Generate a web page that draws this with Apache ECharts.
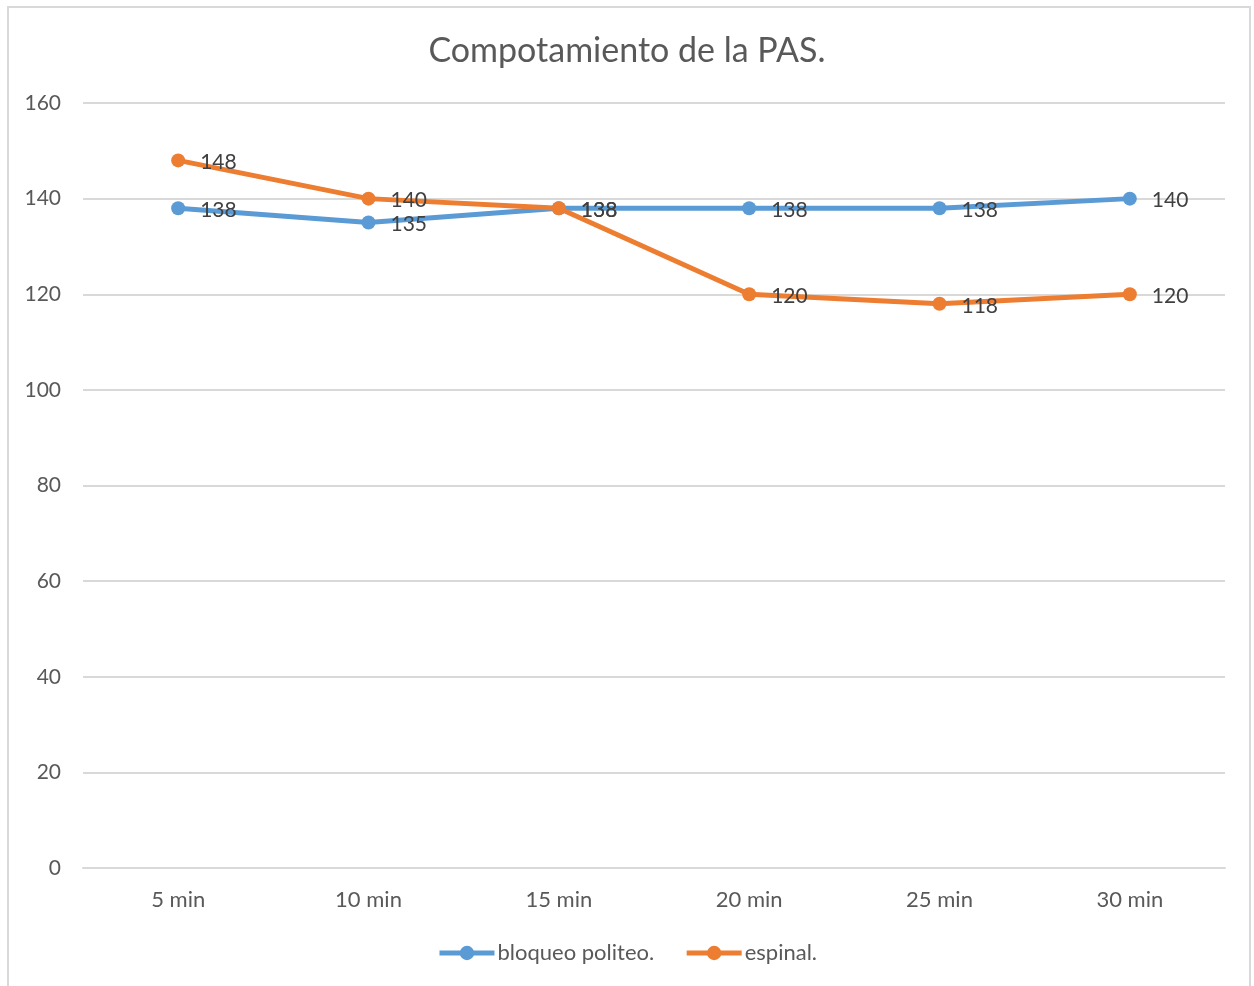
<!DOCTYPE html>
<html>
<head>
<meta charset="utf-8">
<script src="https://cdn.jsdelivr.net/npm/echarts@6/dist/echarts.min.js"></script>
<style>
  html, body { margin: 0; padding: 0; background: #fff; }
  #frame { position: absolute; left: 7px; top: 6px; width: 1244px; height: 990px; border: 2px solid #d9d9d9; box-sizing: border-box; }
  #chart { position: absolute; left: 0; top: 0; width: 1254px; height: 986px; }
</style>
</head>
<body>
<div id="frame"></div>
<div id="chart"></div>
<script>
// datos
const categories = ['5 min', '10 min', '15 min', '20 min', '25 min', '30 min'];
const bloqueo = [138, 135, 138, 138, 138, 140];
const espinal = [148, 140, 138, 120, 118, 120];
const seriesNames = ['bloqueo politeo.', 'espinal.'];
const colors = ['#5B9BD5', '#ED7D31'];

const fontFamily = 'Lato, "Open Sans", sans-serif';

const chart = echarts.init(document.getElementById('chart'), null, { renderer: 'canvas' });

function makeSerie(name, data, color) {
  return {
    name: name,
    type: 'line',
    data: data,
    symbol: 'circle',
    symbolSize: 14,
    color: color,
    lineStyle: { width: 5, color: color },
    itemStyle: { color: color },
    label: {
      show: true,
      position: 'right',
      distance: 15,
      color: '#404040',
      fontSize: 21,
      fontFamily: fontFamily,
      offset: [0, 2]
    },
    emphasis: { disabled: true },
    animation: false
  };
}

chart.setOption({
  backgroundColor: 'transparent',
  title: {
    text: 'Compotamiento de la PAS.',
    left: 'center',
    top: 29,
    textStyle: { color: '#595959', fontSize: 34, fontWeight: 'normal', fontFamily: fontFamily }
  },
  grid: { left: 83, right: 29, top: 103, bottom: 118, containLabel: false },
  legend: {
    bottom: 17,
    left: 'center',
    itemWidth: 55,
    itemHeight: 18,
    itemGap: 30,
    data: seriesNames,
    lineStyle: { width: 5 },
    textStyle: { color: '#595959', fontSize: 22, fontFamily: fontFamily, padding: [0, 0, 0, -2] }
  },
  xAxis: {
    type: 'category',
    data: categories,
    boundaryGap: true,
    axisLine: { show: true, lineStyle: { color: '#d9d9d9', width: 2 } },
    axisTick: { show: false },
    axisLabel: { color: '#595959', fontSize: 22, fontFamily: fontFamily, margin: 21 }
  },
  yAxis: {
    type: 'value',
    min: 0,
    max: 160,
    interval: 20,
    axisLine: { show: false },
    axisTick: { show: false },
    splitLine: { lineStyle: { color: '#d9d9d9', width: 2 } },
    axisLabel: { color: '#595959', fontSize: 21, fontFamily: fontFamily, margin: 22 }
  },
  series: [
    makeSerie(seriesNames[0], bloqueo, colors[0]),
    makeSerie(seriesNames[1], espinal, colors[1])
  ]
});
</script>
</body>
</html>
